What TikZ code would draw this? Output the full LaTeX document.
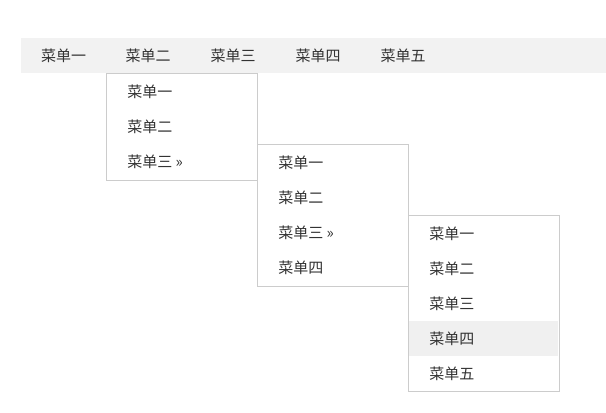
\documentclass[tikz,border=0pt]{standalone}
\usepackage{fontspec}
\newfontfamily\cjk{Noto Sans CJK SC}
\usepackage{xcolor}
\usetikzlibrary{positioning}
\definecolor{menutext}{HTML}{333333}
\definecolor{barbg}{HTML}{F2F2F2}
\definecolor{boxline}{HTML}{CCCCCC}
\definecolor{hoverbg}{HTML}{F0F0F0}
\tikzstyle{menubar}=[fill=barbg]
\tikzstyle{dropbox}=[draw=boxline, fill=white, line width=0.75pt]
\tikzstyle{hovered}=[fill=hoverbg]
\tikzstyle{topitem}=[inner sep=0pt, text=menutext, font=\cjk\fontsize{11.25}{13}\selectfont]
\tikzstyle{subitem}=[topitem, anchor=west]
\newcommand{\dropBox}[3]{
	\draw[dropbox] #1 rectangle #2;
	\coordinate (#3) at #1;
}

\begin{document}
\begin{tikzpicture}[x=0.75pt, y=-0.75pt]
	\useasboundingbox (0,0) rectangle (606,412);
	% top bar
	\fill[menubar] (21,38) rectangle (606,73);
	\node[topitem] (m1) at (63.5,56) {菜单一};
	\node[topitem] (m2) at (148,56) {菜单二};
	\node[topitem] (m3) at (233,56) {菜单三};
	\node[topitem] (m4) at (318,56) {菜单四};
	\node[topitem] (m5) at (403,56) {菜单五};
	% first dropdown
	\dropBox{(106,73)}{(257,180)}{boxA}
	\node[subitem] (a1) at (127,92) {菜单一};
	\node[subitem] (a2) at (127,127) {菜单二};
	\node[subitem] (a3) at (127,162) {菜单三 »};
	% second dropdown
	\dropBox{(257,144)}{(408,286)}{boxB}
	\node[subitem] (b1) at (278,163) {菜单一};
	\node[subitem] (b2) at (278,198) {菜单二};
	\node[subitem] (b3) at (278,233) {菜单三 »};
	\node[subitem] (b4) at (278,268) {菜单四};
	% third dropdown
	\dropBox{(408,215)}{(559,391)}{boxC}
	\fill[hovered] (409,321) rectangle (558,356);
	\node[subitem] (c1) at (429,234) {菜单一};
	\node[subitem] (c2) at (429,269) {菜单二};
	\node[subitem] (c3) at (429,304) {菜单三};
	\node[subitem] (c4) at (429,339) {菜单四};
	\node[subitem] (c5) at (429,374) {菜单五};
\end{tikzpicture}
\end{document}
